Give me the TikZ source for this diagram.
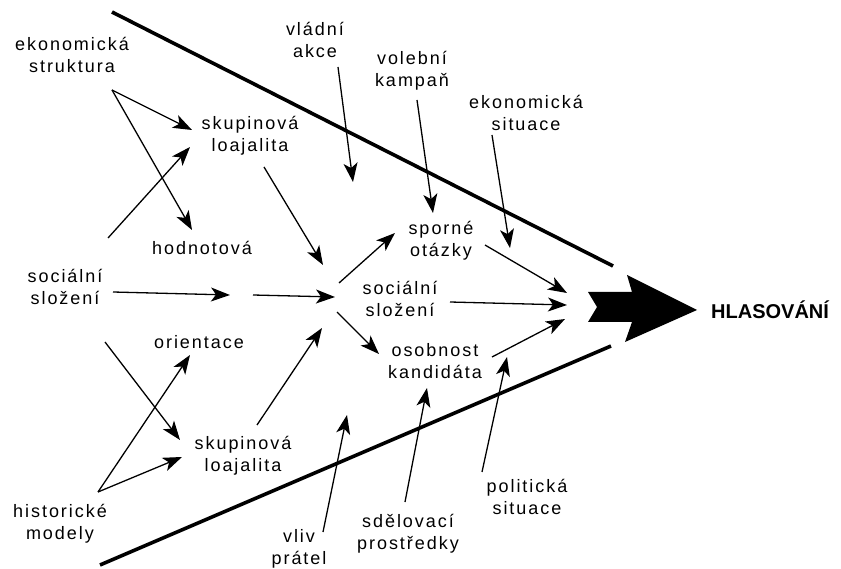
\documentclass[tikz,border=0pt]{standalone}
\usepackage{fontspec}
\usetikzlibrary{arrows.meta}
\newfontfamily\lblfont[LetterSpace=11]{Liberation Sans}
\newfontfamily\hlasfont{Liberation Sans}
\tikzset{
  txt/.style={font=\lblfont\fontsize{18}{22}\selectfont, align=center, inner sep=0pt},
  arr/.style={-{Stealth[length=19pt,width=14pt,inset=5pt]}, line width=1.3pt},
  bigline/.style={line width=3.6pt},
}
\begin{document}
\begin{tikzpicture}[x=1pt,y=-1pt]
\useasboundingbox (0,0) rectangle (841,569);
% text nodes
\node[txt] (ekstr)  at (72,55)   {ekonomická\\struktura};
\node[txt] (skup1)  at (250,136) {skupinová\\loajalita};
\node[txt] (hodn)   at (202,248) {hodnotová};
\node[txt] (soc1)   at (65,287)  {sociální\\složení};
\node[txt] (orient) at (199,342) {orientace};
\node[txt] (skup2)  at (243,456) {skupinová\\loajalita};
\node[txt] (hist)   at (60,524)  {historické\\modely};
\node[txt] (vlad)   at (315,40)  {vládní\\akce};
\node[txt] (volb)   at (412,71)  {volební\\kampaň};
\node[txt] (eksit)  at (526,113) {ekonomická\\situace};
\node[txt] (sporne) at (441,241) {sporné\\otázky};
\node[txt] (soc2)   at (400,299) {sociální\\složení};
\node[txt] (osob)   at (435,361) {osobnost\\kandidáta};
\node[txt] (vliv)   at (299,549) {vliv\\prátel};
\node[txt] (sdel)   at (408,534) {sdělovací\\prostředky};
\node[txt] (polit)  at (527,497) {politická\\situace};
\node[font=\hlasfont\bfseries\fontsize{20}{24}\selectfont, anchor=west, inner sep=0pt] (hlas) at (711,310) {HLASOVÁNÍ};
% big lines
\coordinate (upA) at (112,12);
\coordinate (upB) at (613,266);
\coordinate (loA) at (100,565);
\coordinate (loB) at (611,346);
\draw[bigline] (upA) -- (upB);
\draw[bigline] (loA) -- (loB);
% big arrow
\fill (588,292) -- (632,292) -- (627,275) -- (697,310) -- (625,342) -- (632,322) -- (588,322) -- (597,307) -- cycle;
% connector end points
\coordinate (ekS) at (112,90);
\coordinate (sk1T) at (192,130);
\coordinate (hoT) at (192,230);
\coordinate (soS) at (108,238);
\coordinate (sk1T2) at (190,147);
\coordinate (sk1S) at (264,167);
\coordinate (c1T) at (323,265);
\coordinate (soS2) at (113,292);
\coordinate (gapT) at (230,295);
\coordinate (gapS) at (253,295);
\coordinate (c2T) at (335,297);
\coordinate (hS1) at (339,283);
\coordinate (spT) at (395,233);
\coordinate (hS2) at (337,312);
\coordinate (osT) at (379,354);
\coordinate (sk2S) at (257,425);
\coordinate (c3T) at (322,328);
\coordinate (soS3) at (105,342);
\coordinate (sk2T) at (180,440);
\coordinate (hiS) at (98,492);
\coordinate (orT) at (190,355);
\coordinate (sk2T2) at (182,457);
\coordinate (vlS) at (338,67);
\coordinate (vlT) at (353,182);
\coordinate (voS) at (417,100);
\coordinate (voT) at (433,213);
\coordinate (esS) at (492,135);
\coordinate (esT) at (510,248);
\coordinate (spS) at (485,245);
\coordinate (m1) at (567,293);
\coordinate (scS) at (450,302);
\coordinate (m2) at (567,305);
\coordinate (osS) at (492,357);
\coordinate (m3) at (565,319);
\coordinate (viS) at (323,532);
\coordinate (viT) at (347,415);
\coordinate (sdS) at (405,502);
\coordinate (sdT) at (427,388);
\coordinate (poS) at (482,472);
\coordinate (poT) at (507,357);
% connectors
\draw[arr] (ekS) -- (sk1T);
\draw[arr] (ekS) -- (hoT);
\draw[arr] (soS) -- (sk1T2);
\draw[arr] (sk1S) -- (c1T);
\draw[arr] (soS2) -- (gapT);
\draw[arr] (gapS) -- (c2T);
\draw[arr] (hS1) -- (spT);
\draw[arr] (hS2) -- (osT);
\draw[arr] (sk2S) -- (c3T);
\draw[arr] (soS3) -- (sk2T);
\draw[arr] (hiS) -- (orT);
\draw[arr] (hiS) -- (sk2T2);
\draw[arr] (vlS) -- (vlT);
\draw[arr] (voS) -- (voT);
\draw[arr] (esS) -- (esT);
\draw[arr] (spS) -- (m1);
\draw[arr] (scS) -- (m2);
\draw[arr] (osS) -- (m3);
\draw[arr] (viS) -- (viT);
\draw[arr] (sdS) -- (sdT);
\draw[arr] (poS) -- (poT);
\end{tikzpicture}
\end{document}
